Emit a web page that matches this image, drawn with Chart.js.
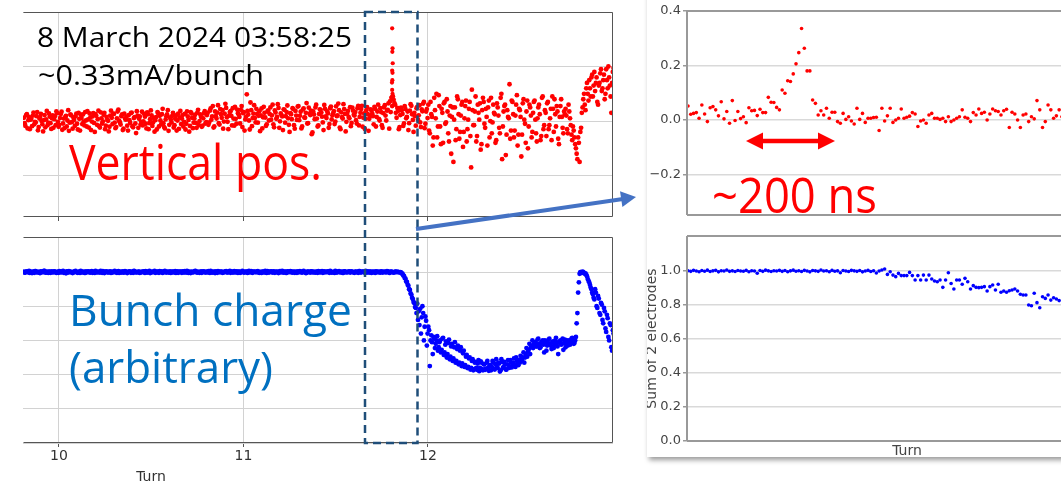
<!DOCTYPE html>
<html>
<head>
<meta charset="utf-8">
<script src="https://cdn.jsdelivr.net/npm/chart.js@4.4.1/dist/chart.umd.min.js"></script>
<style>
  html, body { margin: 0; padding: 0; background: #fff; }
  body { width: 1061px; height: 482px; position: relative; overflow: hidden; }
  canvas { position: absolute; }
  #card { position: absolute; left: 647px; top: -20px; width: 480px; height: 477px; background: #fff;
          box-shadow: 2px 3px 5px rgba(0, 0, 0, 0.4); overflow: hidden; }
  #notes { position: absolute; left: 0; top: 0; pointer-events: none; }
</style>
</head>
<body>
<canvas id="chartVpos" width="592" height="214" style="left:23px;top:9px"></canvas>
<canvas id="chartCharge" width="592" height="237" style="left:23px;top:234px"></canvas>
<div id="card">
  <canvas id="chartZoomVpos" width="480" height="224" style="left:0px;top:21px"></canvas>
  <canvas id="chartZoomCharge" width="488" height="234" style="left:-8px;top:246px"></canvas>
</div>
<svg id="notes" width="1061" height="482">
  <!-- dashed box round the event -->
  <rect x="365" y="12" width="52.5" height="431" fill="none" stroke="#1f4e79" stroke-width="2.5" stroke-dasharray="8 5"/>
  <!-- blue pointer to the zoomed view -->
  <line x1="416" y1="229" x2="623" y2="199" stroke="#4472c4" stroke-width="4"/>
  <polygon points="636,197 622.4,207.1 620,191.3" fill="#4472c4"/>
  <!-- red width marker -->
  <line x1="758" y1="141" x2="823" y2="141" stroke="#ff0000" stroke-width="4.5"/>
  <polygon points="746,141 763,132.5 763,149.5" fill="#ff0000"/>
  <polygon points="835,141 818,132.5 818,149.5" fill="#ff0000"/>

  <g font-family="Open Sans, sans-serif">
    <text x="37" y="47" font-size="28" fill="#000" textLength="315" lengthAdjust="spacingAndGlyphs">8 March 2024 03:58:25</text>
    <text x="38" y="85" font-size="28" fill="#000" textLength="226" lengthAdjust="spacingAndGlyphs">~0.33mA/bunch</text>
    <text x="69" y="180" font-size="49" fill="#ff0000" textLength="253" lengthAdjust="spacingAndGlyphs">Vertical pos.</text>
    <text x="69" y="326" font-size="44" fill="#0070c0" textLength="283" lengthAdjust="spacingAndGlyphs">Bunch charge</text>
    <text x="69" y="383" font-size="44" fill="#0070c0" textLength="204" lengthAdjust="spacingAndGlyphs">(arbitrary)</text>
    <text x="712" y="213" font-size="50" fill="#ff0000" textLength="165" lengthAdjust="spacingAndGlyphs">~200 ns</text>
  </g>
  <text x="151" y="481" font-family="DejaVu Sans" font-size="14" fill="#333" text-anchor="middle">Turn</text>
</svg>

<script>
// ---- data ----
// left panels: one sample every turnStep turns, starting at turnStart;
// the "B" arrays are the samples that fall halfway between
const turnStart = 9.81;
const turnStep = 0.008;

// vertical position, in units of 0.001
const vposMilli = [
  12,-18,25,3,-30,8,20,-12,-5,33,-22,15,0,-38,22,6,-15,28,-8,10,
  -25,18,35,-3,-14,26,-32,9,14,-20,40,-6,21,-28,4,17,-10,30,-35,11,
  24,-16,2,36,-24,13,-2,29,-40,19,7,-19,32,-9,23,-30,15,1,-21,38,
  -11,26,-26,10,42,-4,18,-33,27,5,-17,22,-7,31,-23,14,-44,20,8,-13,
  34,-1,16,-27,25,-8,39,-18,11,3,-31,28,19,-12,45,-22,6,24,-36,13,
  -5,30,-15,21,2,-29,37,9,-20,26,-10,17,-39,33,12,-6,23,-25,41,0,
  15,-17,28,-9,
  22,-14,38,5,55,-20,18,31,-8,44,12,-28,27,48,-3,20,36,-16,9,52,
  -10,29,15,41,-22,33,6,98,24,-31,40,11,58,-5,26,19,-37,46,14,30,
  -18,35,2,50,21,-12,39,8,62,-25,28,17,43,-6,33,10,-40,25,47,-15,
  37,4,55,19,-27,42,13,30,-9,49,22,-48,35,7,60,-20,26,41,16,-33,
  45,11,28,-11,53,21,36,-2,18,64,-24,32,9,44,-38,27,15,51,-7,38,
  20,3,47,-16,30,56,12,-29,40,25,8,43,
  28,-12,45,15,60,2,33,-25,50,20,38,65,72,85,90,66,30,48,-30,22,
  40,-18,55,10,35,-8,62,25,-40,18,47,5,58,-22,36,70,-10,44,
  60,-45,25,-90,85,10,-60,95,-20,45,-80,70,-5,35,-75,55,15,-150,50,-30,
  80,-65,20,70,-40,55,-75,5,70,-170,40,-15,90,-55,30,65,-85,85,-10,45,
  -90,75,0,-45,60,25,-70,50,-25,85,-140,35,60,-50,15,135,-35,70,-60,20,
  95,-50,40,-130,65,5,-80,75,-20,50,-60,30,75,-45,10,60,-70,85,-30,40,
  -55,70,-15,45,90,-40,25,55,-65,15,80,-25,35,
  45,-30,60,10,-50,-20,-60,-100,-140,-80,-40,
  30,80,60,120,100,150,90,170,130,110,160,60,140,190,120,170,100,150,200,130,30,180
];
const vposMilliB = [
  -8,22,-27,14,5,-19,31,-3,18,-34,9,26,-12,3,-23,37,-6,16,-29,21,
  7,-15,29,-21,11,34,-9,-26,19,2,-36,24,-4,13,-18,27,-31,8,23,-11,
  -2,33,-20,6,28,-33,17,-7,25,-14,38,-24,10,-1,30,-17,4,-38,20,12,
  27,-6,-22,35,1,-13,24,-28,9,16,-35,3,29,-19,11,-9,36,-25,17,-3,
  -16,26,-10,32,-30,7,21,-5,-39,14,33,-20,2,25,-8,-27,18,40,-14,6,
  19,-24,8,-35,27,13,-11,22,-3,-31,35,4,-18,28,-26,9,-7,31,-15,24,
  -21,10,36,-4,
  30,-5,46,17,-24,35,9,58,-13,25,40,-2,63,14,-30,33,19,47,-17,8,
  42,24,-9,55,29,-35,16,37,2,68,-19,27,11,45,-6,36,21,-27,52,13,
  -12,39,26,5,60,-23,31,15,48,-1,22,-33,41,18,57,-14,29,7,44,-28,
  20,53,3,34,-20,46,12,66,-8,27,38,-42,24,50,9,-16,43,31,-5,59,
  17,35,-25,47,6,28,-11,54,21,40,-30,14,62,26,-3,37,10,-19,49,23,
  33,-9,56,15,44,-21,28,8,51,-36,19,39,
  18,52,-20,35,8,47,-15,29,58,2,41,-28,33,55,78,60,12,37,-22,49,
  26,-9,44,15,-33,38,56,4,30,-17,52,21,-5,43,64,-26,35,11,
  -35,70,15,-60,40,100,-20,55,-85,30,65,-10,80,-45,20,-120,50,5,-70,90,
  25,-40,60,-95,10,75,-30,45,-55,115,-15,35,-75,60,5,-105,40,70,-25,15,
  50,-60,85,-5,30,-80,65,20,-45,100,-20,55,-125,40,10,-65,75,25,-35,60,
  -90,45,15,-50,80,-10,35,-100,60,20,-40,70,5,-75,50,25,-55,90,-15,30,
  65,-30,10,-70,45,80,-20,35,-85,55,15,-45,25,
  20,-45,35,-15,-70,-35,-85,-120,-60,-150,-25,
  50,100,40,140,75,120,160,90,180,140,70,130,175,110,150,80,190,120,160,90,140,195
];

// the spike near turn 11.8 (several bunches at almost the same turn)
const spikeTurns = [11.806, 11.808, 11.807, 11.809, 11.806, 11.808, 11.807, 11.805, 11.806, 11.808, 11.804];
const spikeValues = [0.34, 0.267, 0.254, 0.212, 0.185, 0.177, 0.15, 0.141, 0.114, 0.1, 0.089];

// bunch charge, in units of 0.001
const chargeMilli = [
  1002,997,1004,999,995,1003,1000,996,1005,998,1001,994,1003,999,1006,997,1000,1002,996,1004,
  999,1003,995,1001,1005,998,1002,996,1000,1004,997,1003,999,994,1002,1006,998,1001,995,1003,
  1000,996,1004,999,1002,997,1005,1001,995,1003,998,1000,1006,996,1002,999,1004,997,1001,995,
  1003,999,1002,996,1005,1000,997,1004,998,1002,994,1001,1003,999,996,1005,1000,998,1003,997,
  1001,1004,995,1002,999,1006,997,1000,1003,996,1002,998,1005,1000,995,1003,999,1001,997,1004,
  998,1002,1000,995,1004,999,1003,996,1001,1005,997,1002,999,994,1003,1000,1006,998,1001,996,
  1004,999,1002,997,1000,1005,995,1003,998,1001,1004,996,1002,999,1003,997,1000,1005,998,1002,
  996,1003,1000,998,1004,995,1002,999,1006,997,1001,1003,998,1000,1005,996,1002,999,1004,997,
  1001,995,1003,1000,998,1005,997,1002,999,1004,996,1001,1003,998,1000,1006,997,1002,995,1003,
  999,1004,997,1001,1003,996,1000,1005,998,1002,999,994,1003,1001,997,1004,1000,998,1002,996,
  1003,1000,1005,997,1001,999,1004,996,1002,998,1000,1006,997,1003,999,1001,995,1004,1000,998,
  1002,997,1004,1000,996,1003,999,1005,998,1001,1003,996,1000,1004,997,1002,999,1001,995,1003,
  1000,998,1004,997,1002,999,1005,1001,996,1003,1000,998,1002,1001,999,
  1000,992,980,965,945,925,900,875,850,825,795,760,720,690,640,800,600,740,570,
  680,450,630,520,610,580,625,560,600,545,615,530,595,520,605,505,580,495,590,480,
  570,470,560,465,540,455,515,445,500,440,490,432,475,428,485,440,470,425,460,435,
  480,422,455,445,470,430,490,438,465,425,475,445,460,430,485,440,470,450,495,445,
  480,455,470,490,500,470,520,505,545,520,570,555,590,565,605,580,560,595,575,600,
  540,585,610,570,590,555,600,580,520,595,575,610,585,560,600,590,575,610,595,585,
  620,760,940,1000,995,1000,990,985,960,940,910,880,850,900,800,860,760,820,720,790,
  670,750,620,700,560,660
];
const chargeMilliB = [
  997,1003,1000,1006,998,994,1002,1005,999,1001,996,1004,1000,1007,997,1002,995,1003,1000,998,
  1004,999,1001,996,1003,1000,1006,998,993,1002,1005,999,1001,997,1004,1000,996,1003,1007,998,
  1002,995,1000,1004,998,1003,996,1001,1006,999,1002,997,1000,1005,994,1003,999,1001,1004,997,
  1000,1006,998,1002,995,1003,1000,997,1005,999,1001,1004,996,1002,1007,998,1000,1003,995,1001,
  999,1003,1005,997,1001,994,1002,1000,1006,998,1003,996,1001,1004,999,1007,997,1002,1000,995,
  1003,998,1005,1000,996,1002,999,1004,997,1001,1006,995,1003,1000,998,1002,1005,997,1001,999,
  996,1004,1000,1003,998,1001,1006,997,1002,994,1000,1005,999,1003,996,1001,1004,998,1000,1007,
  1002,997,1005,999,1001,1003,996,1000,1004,998,1002,995,1006,1000,997,1003,1001,999,1005,996,
  1000,1003,998,1006,995,1002,1000,1004,997,1001,1003,999,994,1005,1000,998,1002,996,1004,1001,
  1005,998,1002,996,1000,1004,999,1003,997,1006,1001,995,1002,1000,1004,998,1003,997,1001,1005,
  998,1002,996,1004,1000,1003,999,1007,997,1001,995,1003,1000,1005,998,1002,996,1004,999,1001,
  1004,999,1001,997,1003,1000,996,1005,998,1002,1000,1006,997,1001,1003,995,1002,999,1004,1000,
  1002,997,1003,999,1001,998,1004,996,1002,1000,997,1003,999,1001,998,
  998,990,978,962,942,920,895,868,842,818,790,815,770,785,735,760,680,715,640,
  660,600,590,620,555,600,540,590,530,610,515,575,500,585,490,565,480,560,470,550,
  460,540,450,525,445,505,438,495,430,480,425,470,440,465,420,478,432,460,428,470,
  440,455,425,480,435,462,445,470,418,490,440,475,430,460,450,485,442,470,455,500,
  465,485,510,480,530,500,555,535,580,560,600,575,590,565,610,555,585,600,530,590,
  570,605,580,550,595,575,615,565,590,600,580,545,605,585,570,600,590,615,580,600,
  700,880,990,1000,1002,995,992,975,950,925,900,870,840,880,790,845,750,810,700,770,
  650,730,600,690,540,640
];

// zoomed view (right panels): one value per sample, units of 0.001
const zoomVposMilli = [
  51,21,24,27,6,55,22,-6,45,49,37,15,67,4,31,-12,71,-2,31,5,12,-10,45,34,35,16,39,27,27,
  83,65,64,46,37,110,98,144,141,169,206,247,336,263,180,180,73,61,18,
  34,18,43,6,28,28,-6,-12,24,2,12,-4,-15,43,2,24,-9,6,6,9,
  10,-39,43,-4,15,43,-9,0,6,40,6,10,14,27,22,-24,-4,0,-12,18,
  24,6,6,2,6,-6,12,-6,0,6,12,37,10,6,-6,27,18,40,24,28,
  0,22,40,34,31,18,34,39,-28,28,22,0,-28,18,22,-6,12,4,71,37,
  -28,-6,55,37,6,15,37,12
];
const zoomChargeMilli = [
  1002,998,1004,1000,996,1003,999,1005,997,1001,1004,995,1002,1000,1006,998,1001,997,1003,1000,
  999,1004,996,1002,1000,987,1003,998,1005,1001,997,1002,1000,1004,998,1003,996,1001,1005,999,
  1002,997,1004,1000,995,1003,1001,998,1006,1000,1002,996,1004,999,1001,990,1003,1000,997,1004,
  1001,998,1003,995,1000,1004,997,1002,988,1000,
  1006,1012,980,996,976,967,986,973,973,973,992,973,947,973,947,976,947,976,953,941,
  937,947,904,947,990,927,894,947,947,922,957,937,894,914,904,902,904,908,882,908,
  918,888,922,875,882,875,884,888,894,882,863,859,859,800,796,869,814,784,849,839,
  859,829,843,835,826
];

// tick values
const turnTicks = [10, 11, 12];
const vposTicks = [-0.2, 0, 0.2, 0.4];
const chargeTicks = [0, 0.2, 0.4, 0.6, 0.8, 1.0];

// ---- helpers ----
const onTurnGrid = (arr, shift) => arr.map((v, i) => ({ x: turnStart + (i + shift) * turnStep, y: v / 1000 }));
const onSampleGrid = (arr) => arr.map((v, i) => ({ x: i, y: v / 1000 }));
const fixedTicks = (values) => (scale) => { scale.ticks = values.map(v => ({ value: v })); };
const fixedSize = (px) => (scale) => { if (scale.isHorizontal()) scale.height = px; else scale.width = px; };
const decimal = (v) => (Math.abs(v) < 1e-9 ? '0.0' : v.toFixed(1).replace('-', '\u2212'));

// draws the box lines of a matplotlib axes (only the sides asked for)
const framePlugin = {
  id: 'frame',
  afterDatasetsDraw(chart, args, opts) {
    const a = chart.chartArea;
    const ctx = chart.ctx;
    const h = opts.width % 2 ? 0.5 : 0;
    const l = Math.round(a.left) + h, r = Math.round(a.right) - h;
    const t = Math.round(a.top) + h, b = Math.round(a.bottom) - h;
    ctx.save();
    ctx.strokeStyle = opts.color;
    ctx.lineWidth = opts.width;
    ctx.beginPath();
    if (opts.sides.includes('t')) { ctx.moveTo(l, t); ctx.lineTo(r, t); }
    if (opts.sides.includes('b')) { ctx.moveTo(l, b); ctx.lineTo(r, b); }
    if (opts.sides.includes('l')) { ctx.moveTo(l, t); ctx.lineTo(l, b); }
    if (opts.sides.includes('r')) { ctx.moveTo(r, t); ctx.lineTo(r, b); }
    ctx.stroke();
    ctx.restore();
  }
};

const common = {
  responsive: false,
  animation: false,
  devicePixelRatio: 1,
  events: [],
  plugins: { legend: { display: false }, tooltip: { enabled: false } },
};

const red = (data, r) => ({ data, backgroundColor: '#ff0000', borderWidth: 0, pointRadius: r });
const blue = (data, r) => ({ data, backgroundColor: '#0000ff', borderWidth: 0, pointRadius: r });

// ---- left top: vertical position ----
new Chart(document.getElementById('chartVpos'), {
  type: 'scatter',
  data: {
    datasets: [
      red(onTurnGrid(vposMilli, 0), 2.4),
      red(onTurnGrid(vposMilliB, 0.5), 2.4),
      red(spikeTurns.map((t, i) => ({ x: t, y: spikeValues[i] })), 2.1),
    ],
  },
  options: {
    ...common,
    layout: { autoPadding: false, padding: { top: 3, right: 2, bottom: 0, left: 0 } },
    plugins: { ...common.plugins, frame: { sides: 'trb', color: '#555', width: 1 } },
    scales: {
      x: {
        type: 'linear', min: 9.805, max: 13.003,
        afterBuildTicks: fixedTicks(turnTicks), afterFit: fixedSize(6),
        border: { display: false },
        grid: { color: '#d2d2d2', tickColor: '#555', tickLength: 4 },
        ticks: { display: false },
      },
      y: {
        min: -0.352, max: 0.4,
        afterBuildTicks: fixedTicks(vposTicks), afterFit: fixedSize(0),
        border: { display: false },
        grid: { color: '#d2d2d2', drawTicks: false },
        ticks: { display: false },
      },
    },
  },
  plugins: [framePlugin],
});

// ---- left bottom: bunch charge ----
new Chart(document.getElementById('chartCharge'), {
  type: 'scatter',
  data: {
    datasets: [
      blue(onTurnGrid(chargeMilli, 0), 2.4),
      blue(onTurnGrid(chargeMilliB, 0.5), 2.4),
    ],
  },
  options: {
    ...common,
    layout: { autoPadding: false, padding: { top: 3, right: 2, bottom: 0, left: 0 } },
    plugins: { ...common.plugins, frame: { sides: 'trb', color: '#555', width: 1 } },
    scales: {
      x: {
        type: 'linear', min: 9.805, max: 13.003,
        afterBuildTicks: fixedTicks(turnTicks), afterFit: fixedSize(28),
        border: { display: false },
        grid: { color: '#d2d2d2', tickColor: '#555', tickLength: 4 },
        ticks: { color: '#333', padding: 1, font: { family: 'DejaVu Sans', size: 14 }, callback: (v) => String(v) },
      },
      y: {
        min: 0, max: 1.205,
        afterBuildTicks: fixedTicks(chargeTicks), afterFit: fixedSize(0),
        border: { display: false },
        grid: { color: '#d2d2d2', drawTicks: false },
        ticks: { display: false },
      },
    },
  },
  plugins: [framePlugin],
});

// ---- right top: zoom of the vertical position ----
new Chart(document.getElementById('chartZoomVpos'), {
  type: 'scatter',
  data: { datasets: [red(onSampleGrid(zoomVposMilli), 1.8)] },
  options: {
    ...common,
    layout: { autoPadding: false, padding: { top: 10, right: 0, bottom: 10, left: 0 } },
    plugins: { ...common.plugins, frame: { sides: 'ltb', color: '#999', width: 2 } },
    scales: {
      x: { type: 'linear', min: -0.36, max: 158.5, display: false },
      y: {
        min: -0.349, max: 0.4,
        afterBuildTicks: fixedTicks(vposTicks), afterFit: fixedSize(40),
        border: { display: false },
        grid: { color: '#d9d9d9', lineWidth: 1.5, tickColor: '#999', tickLength: 4 },
        ticks: { color: '#444', padding: 2, font: { family: 'DejaVu Sans', size: 13 }, callback: decimal },
      },
    },
  },
  plugins: [framePlugin],
});

// ---- right bottom: zoom of the bunch charge ----
new Chart(document.getElementById('chartZoomCharge'), {
  type: 'scatter',
  data: { datasets: [blue(onSampleGrid(zoomChargeMilli), 1.8)] },
  options: {
    ...common,
    layout: { autoPadding: false, padding: { top: 10, right: 0, bottom: 0, left: 0 } },
    plugins: { ...common.plugins, frame: { sides: 'ltb', color: '#999', width: 2 } },
    scales: {
      x: {
        type: 'linear', min: -0.36, max: 158.5,
        afterFit: fixedSize(19),
        border: { display: false },
        grid: { display: false },
        ticks: { display: false },
        title: { display: true, text: 'Turn', color: '#444', padding: 0, font: { family: 'DejaVu Sans', size: 14 } },
      },
      y: {
        min: 0, max: 1.206,
        afterBuildTicks: fixedTicks(chargeTicks), afterFit: fixedSize(48),
        border: { display: false },
        grid: { color: '#d9d9d9', lineWidth: 1.5, tickColor: '#999', tickLength: 4 },
        ticks: { color: '#444', padding: 2, font: { family: 'DejaVu Sans', size: 13 }, callback: decimal },
        title: { display: true, text: 'Sum of 2 electrodes', color: '#444', padding: { top: 5, bottom: 0 }, font: { family: 'DejaVu Sans', size: 14 } },
      },
    },
  },
  plugins: [framePlugin],
});
</script>
</body>
</html>
